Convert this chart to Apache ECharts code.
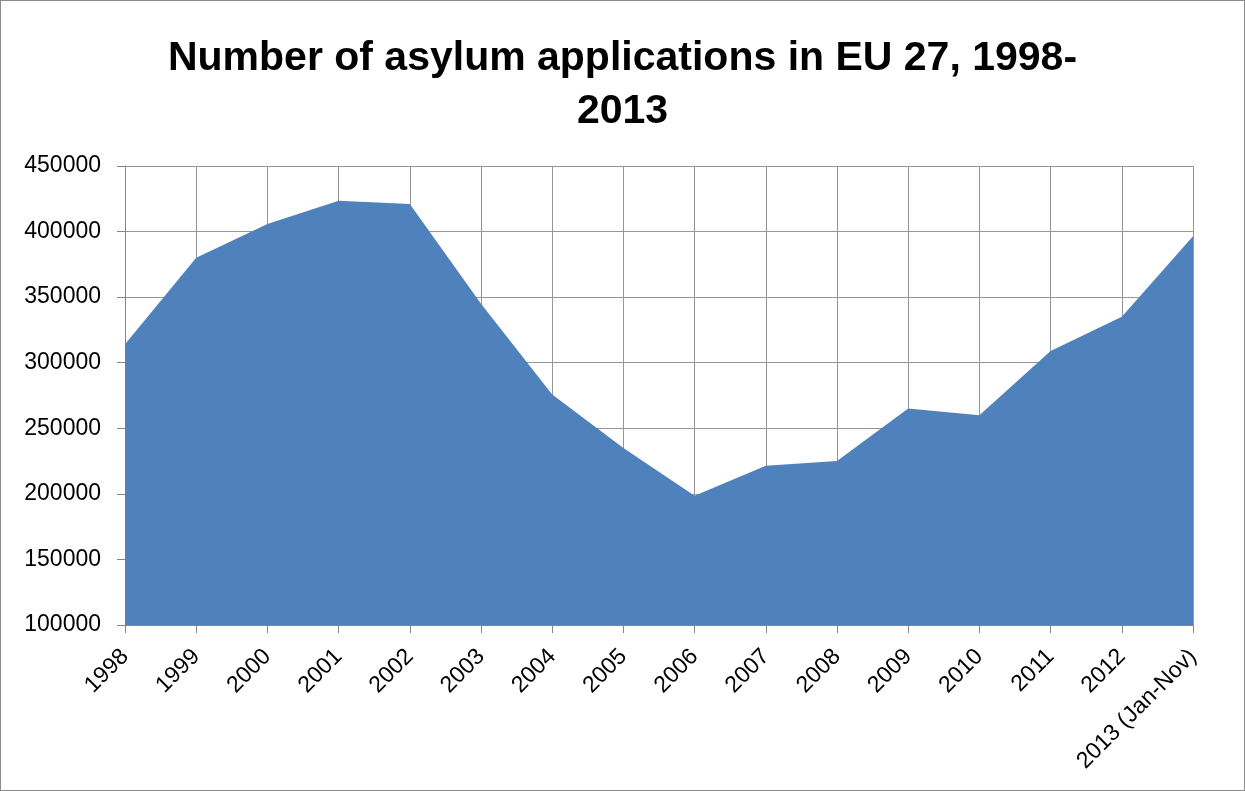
<!DOCTYPE html>
<html>
<head>
<meta charset="utf-8">
<script src="https://cdn.jsdelivr.net/npm/echarts@6/dist/echarts.min.js"></script>
<style>
html,body{margin:0;padding:0;background:#fff;}
#chart{width:1243px;height:789px;border:1px solid #8c8c8c;}
</style>
</head>
<body>
<div id="chart"></div>
<script>
const titleText = 'Number of asylum applications in EU 27, 1998-\n2013';
const categories = ['1998','1999','2000','2001','2002','2003','2004','2005','2006','2007','2008','2009','2010','2011','2012','2013 (Jan-Nov)'];
const applications = [314000, 380000, 405800, 423500, 421000, 345000, 275800, 235000, 198500, 221500, 225000, 265000, 260000, 309000, 335000, 396500];
const yMin = 100000, yMax = 450000, yStep = 50000;

const chart = echarts.init(document.getElementById('chart'));
chart.setOption({
  animation: false,
  backgroundColor: '#ffffff',
  title: {
    text: titleText,
    left: 'center',
    top: 26,
    textStyle: {
      fontFamily: 'Liberation Sans',
      fontWeight: 'bold',
      fontSize: 41,
      lineHeight: 53,
      color: '#000'
    }
  },
  grid: { left: 124, right: 51, top: 165, bottom: 165, containLabel: false },
  xAxis: {
    type: 'category',
    data: categories,
    boundaryGap: false,
    axisLine: { show: true, lineStyle: { color: '#868686', width: 1 } },
    axisTick: { show: true, alignWithLabel: true, length: 8, lineStyle: { color: '#868686' } },
    splitLine: { show: true, lineStyle: { color: '#969696', width: 1 } },
    axisLabel: {
      rotate: 45,
      interval: 0,
      margin: 28,
      fontFamily: 'Liberation Sans',
      fontSize: 23,
      color: '#000'
    }
  },
  yAxis: {
    type: 'value',
    min: yMin,
    max: yMax,
    interval: yStep,
    axisLine: { show: true, lineStyle: { color: '#868686', width: 1 } },
    axisTick: { show: true, length: 8, lineStyle: { color: '#868686' } },
    splitLine: { show: true, lineStyle: { color: '#969696', width: 1 } },
    axisLabel: {
      margin: 24,
      fontFamily: 'Liberation Sans',
      fontSize: 23,
      color: '#000',
      formatter: function (v) { return String(v); }
    }
  },
  series: [{
    type: 'line',
    data: applications,
    symbol: 'none',
    lineStyle: { width: 0 },
    areaStyle: { color: '#4F81BD', opacity: 1, origin: 'start' },
    itemStyle: { color: '#4F81BD' }
  }]
});
</script>
</body>
</html>
